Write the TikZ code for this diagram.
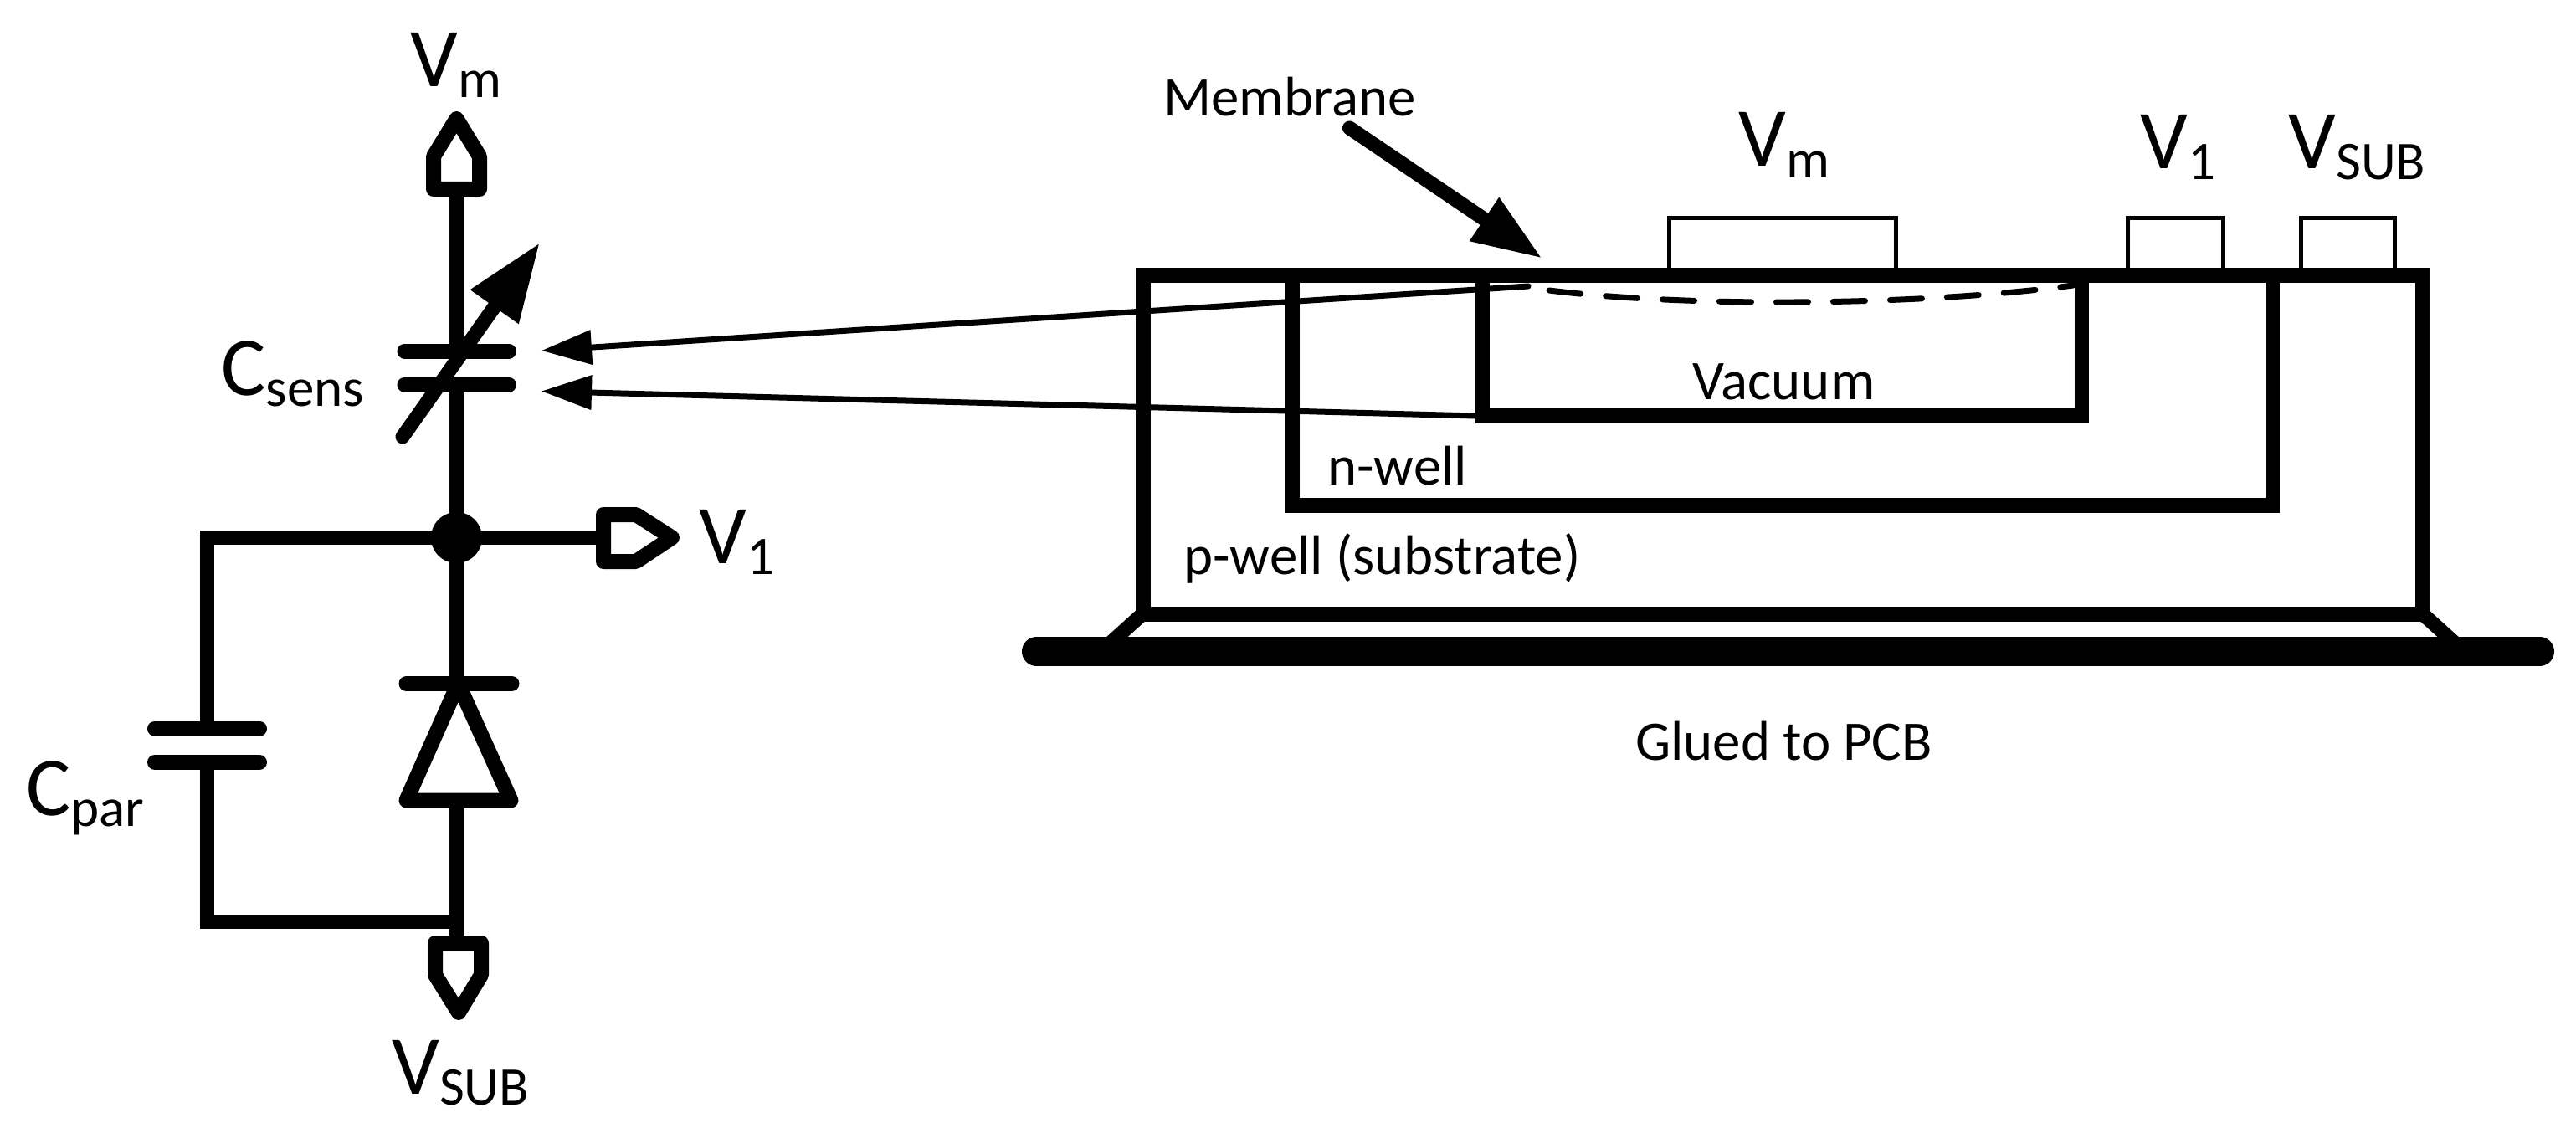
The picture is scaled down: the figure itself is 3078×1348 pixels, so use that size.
\documentclass[tikz,border=0pt]{standalone}
\usepackage{fontspec}
\setmainfont{Carlito}
\usetikzlibrary{arrows.meta}
\newcommand{\lowsub}[1]{\raisebox{-6.5pt}{\fontsize{32.5pt}{32.5pt}\selectfont #1}}
\begin{document}
\begin{tikzpicture}[x=0.5pt,y=-0.5pt,
    wire/.style={line width=8.5pt},
    pin/.style={line width=9pt,line join=round},
    plate/.style={line width=9pt,line cap=round},
    well/.style={line width=8.75pt},
    pad/.style={line width=2.5pt},
    feed/.style={line width=3.5pt,line cap=round,-{Triangle[length=30pt,width=20pt]}},
    fat/.style={line width=8.5pt,line cap=round},
    big/.style={inner sep=0pt,anchor=base west,font=\fontsize{50pt}{50pt}\selectfont},
    small/.style={inner sep=0pt,anchor=base west,font=\fontsize{33.4pt}{33.4pt}\selectfont}]
  \useasboundingbox (0,0) rectangle (3078,1348);

  % circuit points
  \coordinate (pm) at (545.5,226);
  \coordinate (csA) at (545.5,419.5);
  \coordinate (csB) at (545.5,459.5);
  \coordinate (dBar) at (545.5,817);
  \coordinate (dBase) at (545.5,956.5);
  \coordinate (psub) at (545.5,1120);
  \coordinate (pone) at (721,642.5);
  \coordinate (cpA) at (247.5,870.5);
  \coordinate (cpB) at (247.5,911);
  \coordinate (gnd) at (545.5,1101);

  % pins
  \draw[pin] (518,226) -- (573,226) -- (573,187) -- (545.5,142) -- (518,187) -- cycle;
  \draw[pin] (721,615) -- (760,615) -- (803,642.5) -- (760,671) -- (721,671) -- cycle;
  \draw[pin] (520,1127) -- (575,1127) -- (575,1165) -- (548,1210) -- (520,1165) -- cycle;

  % junction and wires
  \node[circle,fill=black,inner sep=0pt,minimum size=30.5pt] (dot) at (545.5,642.5) {};
  \draw[wire] (pm) -- (csA);
  \draw[wire] (csB) -- (dot.center);
  \draw[wire] (dot.center) -- (pone);
  \draw[wire] (dot.center) -| (cpA);
  \draw[wire] (cpB) |- (gnd);
  \draw[wire] (dot.center) -- (dBar);
  \draw[wire] (dBase) -- (psub);

  % capacitors and diode
  \draw[plate] (483.5,419.5) -- (608,419.5);
  \draw[plate] (483.5,459.5) -- (608,459.5);
  \draw[plate] (185,870.5) -- (310,870.5);
  \draw[plate] (185,911) -- (310,911);
  \draw[plate] (485.5,817) -- (611.5,817);
  \draw[pin] (485.5,956.5) -- (610.5,956.5) -- (547.5,817) -- cycle;
  \draw[fat,-{Triangle[length=47pt,width=33pt]}] (481,522) -- (645,290);

  % circuit labels
  \node[big] (lVm) at (490,104) {V\lowsub{m}};
  \node[big] (lV1) at (835,673) {V\lowsub{1}};
  \node[big] (lVs) at (468,1307) {V\lowsub{SUB}};
  \node[big] (lCs) at (264,472) {C\lowsub{sens}};
  \node[big] (lCp) at (31,974) {C\lowsub{par}};

  % membrane
  \draw[line width=3.5pt,line cap=round,dash pattern=on 19pt off 15pt]
    (1851,347) .. controls (2020,368) and (2300,365) .. (2477,341);

  % cross section
  \draw[well] (1366,329) rectangle (2894.5,734);
  \draw[well] (1544.5,329) -- (1544.5,604) -- (2715.5,604) -- (2715.5,329);
  \draw[well] (1771.5,329) -- (1771.5,497) -- (2487.5,497) -- (2487.5,329);
  \draw[wire] (1366,733) -- (1325,770);
  \draw[wire] (2894,733) -- (2935,770);
  \draw[line width=17.5pt,line cap=round] (1238.5,778.5) -- (3034.5,778.5);

  % pads
  \draw[pad] (1994,329) |- (2265.5,260.5) -- (2265.5,329);
  \draw[pad] (2542.5,329) |- (2656,260.5) -- (2656,329);
  \draw[pad] (2749,329) |- (2861,260.5) -- (2861,329);

  % arrows
  \coordinate (memTail) at (1612.5,153);
  \coordinate (memTip) at (1843,309);
  \coordinate (upTail) at (1826,342);
  \coordinate (upTip) at (647,419);
  \coordinate (lowTail) at (1763,497);
  \coordinate (lowTip) at (647,467.5);
  \draw[fat,-{Triangle[length=42pt,width=29pt]}] (memTail) -- (memTip);
  \draw[feed] (upTail) -- (upTip);
  \draw[feed] (lowTail) -- (lowTip);

  % cross section labels
  \node[small] (tMem) at (1390,139) {Membrane};
  \node[small] (tVac) at (2022,477) {Vacuum};
  \node[small] (tN) at (1586,579) {n-well};
  \node[small] (tP) at (1414,686) {p-well (substrate)};
  \node[small] (tG) at (1954,908) {Glued to PCB};
  \node[big] (rVm) at (2077,199) {V\lowsub{m}};
  \node[big] (rV1) at (2557,202) {V\lowsub{1}};
  \node[big] (rVs) at (2734,202) {V\lowsub{SUB}};
\end{tikzpicture}
\end{document}
